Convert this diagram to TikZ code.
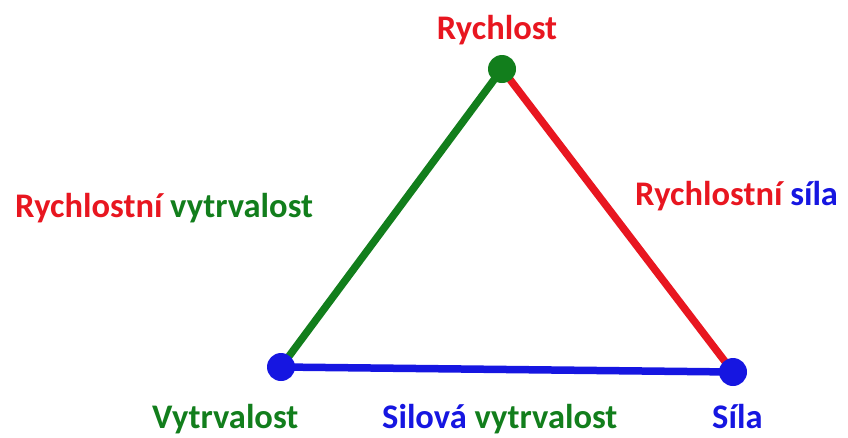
\documentclass[tikz,border=0pt]{standalone}
\usepackage{fontspec}
\setmainfont{Carlito}
\definecolor{cred}{RGB}{232,22,32}
\definecolor{cgreen}{RGB}{18,126,28}
\definecolor{cblue}{RGB}{22,22,225}
\tikzset{
  edge/.style={line width=7.5pt},
  dot/.style={circle,inner sep=0pt,minimum size=28pt},
  lbl/.style={inner sep=0pt,font=\bfseries\fontsize{34.5}{40}\selectfont},
}
\begin{document}
\begin{tikzpicture}[x=1pt,y=-1pt]
\useasboundingbox (0,0) rectangle (848,437);
\coordinate (T) at (502,69);
\coordinate (L) at (281,367);
\coordinate (R) at (733,372);
\draw[edge,cgreen] (L) -- (T);
\draw[edge,cred] (T) -- (R);
\draw[edge,cblue] (L) -- (R);
\node[dot,fill=cgreen] (dT) at (T) {};
\node[dot,fill=cblue] (dL) at (L) {};
\node[dot,fill=cblue] (dR) at (R) {};
\node[lbl,anchor=base,text=cred] (rychlost) at (497,39) {Rychlost};
\node[lbl,anchor=base west] (rv) at (15,217) {\textcolor{cred}{Rychlostní} \textcolor{cgreen}{vytrvalost}};
\node[lbl,anchor=base west] (rs) at (635,205) {\textcolor{cred}{Rychlostní} \textcolor{cblue}{síla}};
\node[lbl,anchor=base west,text=cgreen] (vytr) at (152,428) {Vytrvalost};
\node[lbl,anchor=base west] (sv) at (382,428) {\textcolor{cblue}{Silová} \textcolor{cgreen}{vytrvalost}};
\node[lbl,anchor=base west,text=cblue] (sila) at (712,428) {Síla};
\end{tikzpicture}
\end{document}
